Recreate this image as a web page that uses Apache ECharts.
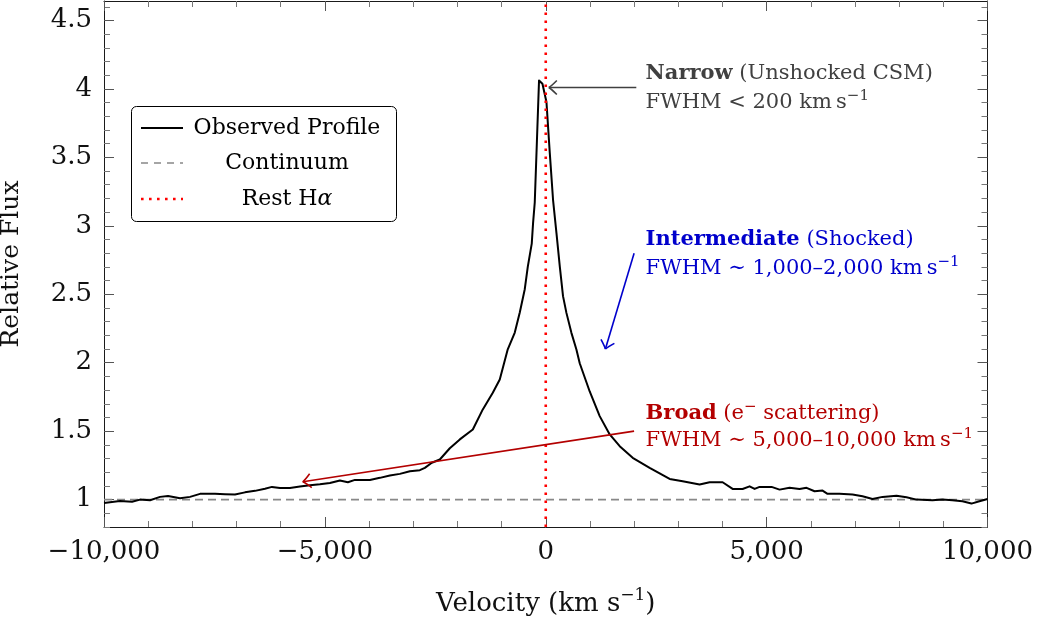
<!DOCTYPE html>
<html>
<head>
<meta charset="utf-8">
<script src="https://cdn.jsdelivr.net/npm/echarts@6/dist/echarts.min.js"></script>
<style>
  html, body { margin: 0; padding: 0; background: #fff; }
  #chart { width: 1038px; height: 623px; }
</style>
</head>
<body>
<div id="chart"></div>
<script>
// H-alpha line profile of an interacting supernova (velocity in km/s, flux relative to continuum)
const velocity = [
  -10000, -9640, -9365, -9184, -8958, -8731, -8550, -8279, -8053, -7826,
  -7487, -7261, -7035, -6809, -6582, -6356, -6198, -6017, -5791, -5565,
  -5338, -5112, -4886, -4660, -4479, -4320, -3981, -3755, -3529, -3303,
  -3076, -2850, -2737, -2579, -2398, -2172, -1945, -1651, -1425, -1199,
  -1041, -860, -701, -588, -475, -407, -317, -287, -249, -200,
  -152, -75, 16, 90, 165, 242, 317, 391, 468, 581,
  694, 769, 995, 1221, 1448, 1674, 1968, 2352, 2805, 3099,
  3483, 3710, 4004, 4230, 4456, 4614, 4728, 4841, 5112, 5293,
  5519, 5745, 5904, 6085, 6266, 6379, 6650, 6944, 7171, 7397,
  7623, 7940, 8166, 8392, 8754, 8980, 9206, 9432, 9636, 9817, 10000
];
const flux = [
  0.976, 0.990, 0.985, 1.000, 0.995, 1.020, 1.027, 1.010, 1.020, 1.042,
  1.042, 1.040, 1.037, 1.053, 1.064, 1.080, 1.093, 1.085, 1.085, 1.095,
  1.105, 1.112, 1.122, 1.139, 1.127, 1.144, 1.144, 1.159, 1.176, 1.188,
  1.207, 1.215, 1.232, 1.269, 1.293, 1.375, 1.440, 1.512, 1.659, 1.781,
  1.878, 2.098, 2.220, 2.367, 2.537, 2.700, 2.870, 3.020, 3.170, 3.620,
  4.062, 4.038, 3.904, 3.538, 3.190, 2.948, 2.705, 2.486, 2.364, 2.218,
  2.096, 1.996, 1.790, 1.610, 1.476, 1.390, 1.305, 1.232, 1.151, 1.134,
  1.110, 1.127, 1.127, 1.078, 1.078, 1.097, 1.078, 1.093, 1.093, 1.073,
  1.086, 1.078, 1.086, 1.061, 1.066, 1.042, 1.042, 1.037, 1.024, 1.005,
  1.020, 1.029, 1.017, 1.000, 0.995, 1.000, 0.995, 0.988, 0.971, 0.988, 1.005
];
const continuumLevel = 1;
const restVelocity = 0;

const xRange = [-10000, 10000];
const yRange = [0.8, 4.642];
const yMajorTicks = [1, 1.5, 2, 2.5, 3, 3.5, 4, 4.5];
const yMinorTicks = [0.8, 0.9, 1.1, 1.2, 1.3, 1.4, 1.6, 1.7, 1.8, 1.9, 2.1, 2.2, 2.3, 2.4,
  2.6, 2.7, 2.8, 2.9, 3.1, 3.2, 3.3, 3.4, 3.6, 3.7, 3.8, 3.9, 4.1, 4.2, 4.3, 4.4, 4.6];

const FONT = 'DejaVu Serif';
const GRAY = '#404040', BLUE = '#0000cc', RED = '#b30000';
const ANNO_SIZE = 21;

// Annotated line components: arrow (tail -> head) and two text lines, all in data units
const components = [
  { tail: [2050, 4.01], head: [70, 4.01], color: GRAY, textAt: [2260, 4.11, 3.90],
    line1: '{b|Narrow} (Unshocked CSM)', line2: 'FWHM < 200 km\u2009s{sup|\u22121}' },
  { tail: [2000, 2.8], head: [1350, 2.1], color: BLUE, textAt: [2260, 2.897, 2.69],
    line1: '{b|Intermediate} (Shocked)', line2: 'FWHM \u223C 1,000\u20132,000 km\u2009s{sup|\u22121}' },
  { tail: [2000, 1.5], head: [-5500, 1.13], color: RED, textAt: [2260, 1.626, 1.428],
    line1: '{b|Broad} (e{sup|\u2212} scattering)', line2: 'FWHM \u223C 5,000\u201310,000 km\u2009s{sup|\u22121}' }
];

const fmtVelocity = v => (v < 0 ? '\u2212' : '') + Math.abs(v).toLocaleString('en-US');

const frame = { show: true, onZero: false, lineStyle: { color: '#1a1a1a', width: 1 } };
const hiddenLine = { show: false, onZero: false };
const majorTick = (values) => ({ show: true, inside: true, length: 10, lineStyle: { color: '#555', width: 1 }, customValues: values });
const minorTickY = { show: true, inside: true, length: 6, lineStyle: { color: '#777', width: 1 }, customValues: yMinorTicks };

const chart = echarts.init(document.getElementById('chart'), null, { renderer: 'canvas' });

chart.setOption({
  animation: false,
  backgroundColor: '#fff',
  textStyle: { fontFamily: FONT },
  grid: { left: 104, right: 50.5, top: 1, bottom: 96, containLabel: false, outerBoundsMode: 'none' },
  xAxis: [
    {
      type: 'value', position: 'bottom', min: xRange[0], max: xRange[1], interval: 5000,
      axisLine: frame,
      axisTick: { show: true, inside: true, length: 10, lineStyle: { color: '#555', width: 1 } },
      minorTick: { show: true, splitNumber: 5, length: 6, lineStyle: { color: '#777', width: 1 } },
      splitLine: { show: false },
      axisLabel: { formatter: fmtVelocity, fontSize: 26, color: '#111', margin: 12, fontFamily: FONT },
      name: 'Velocity (km s{sup|\u22121})', nameLocation: 'middle', nameGap: 60,
      nameTextStyle: { fontSize: 26, color: '#111', fontFamily: FONT, lineHeight: 34,
        rich: { sup: { fontSize: 17, lineHeight: 17, color: '#111', fontFamily: FONT, verticalAlign: 'top' } } }
    },
    {
      type: 'value', position: 'top', min: xRange[0], max: xRange[1], interval: 5000,
      axisLine: frame,
      axisTick: { show: true, inside: true, length: 10, lineStyle: { color: '#555', width: 1 } },
      minorTick: { show: true, splitNumber: 5, length: 6, lineStyle: { color: '#777', width: 1 } },
      splitLine: { show: false }, axisLabel: { show: false }
    }
  ],
  yAxis: [
    {
      type: 'value', position: 'left', min: yRange[0], max: yRange[1],
      axisLine: frame, axisTick: majorTick(yMajorTicks), splitLine: { show: false },
      axisLabel: { customValues: yMajorTicks, fontSize: 26, color: '#111', margin: 12, fontFamily: FONT },
      name: 'Relative Flux', nameLocation: 'middle', nameGap: 80,
      nameTextStyle: { fontSize: 25, color: '#111', fontFamily: FONT }
    },
    {
      type: 'value', position: 'right', min: yRange[0], max: yRange[1],
      axisLine: frame, axisTick: majorTick(yMajorTicks), splitLine: { show: false },
      axisLabel: { show: false }
    },
    {
      type: 'value', position: 'left', min: yRange[0], max: yRange[1],
      axisLine: hiddenLine, splitLine: { show: false }, axisLabel: { show: false }, axisTick: minorTickY
    },
    {
      type: 'value', position: 'right', min: yRange[0], max: yRange[1],
      axisLine: hiddenLine, splitLine: { show: false }, axisLabel: { show: false }, axisTick: minorTickY
    }
  ],
  series: [
    {
      name: 'Continuum', type: 'line', showSymbol: false, silent: true,
      data: [[xRange[0], continuumLevel], [xRange[1], continuumLevel]],
      lineStyle: { color: '#888', width: 1.6, type: [8, 5] }, z: 2
    },
    {
      name: 'Observed Profile', type: 'line', showSymbol: false, silent: true,
      data: velocity.map((v, i) => [v, flux[i]]),
      lineStyle: { color: '#000', width: 2, join: 'round' }, z: 3
    },
    {
      name: 'Rest H\u03B1', type: 'line', showSymbol: false, silent: true,
      data: [[restVelocity, yRange[0]], [restVelocity, yRange[1]]],
      lineStyle: { color: '#ff0000', width: 2.6, type: [2.6, 5.4] }, z: 4
    }
  ]
});

// Arrows, annotation text and the legend box are drawn as graphic elements
function toPx(p) { return chart.convertToPixel({ xAxisIndex: 0, yAxisIndex: 0 }, p); }

function arrow(tailD, headD, color) {
  const a = toPx(tailD), b = toPx(headD);
  const dx = b[0] - a[0], dy = b[1] - a[1], L = Math.hypot(dx, dy);
  const ux = dx / L, uy = dy / L, nx = -uy, ny = ux;
  const back = 8, half = 7;
  const els = [{ type: 'line', z: 10, shape: { x1: a[0], y1: a[1], x2: b[0], y2: b[1] },
    style: { stroke: color, lineWidth: 1.6 } }];
  [1, -1].forEach(s => {
    els.push({ type: 'bezierCurve', z: 10, shape: {
      x1: b[0] - ux * back + nx * half * s, y1: b[1] - uy * back + ny * half * s,
      cpx1: b[0] - ux * 2.5 + nx * 1.5 * s, cpy1: b[1] - uy * 2.5 + ny * 1.5 * s,
      x2: b[0], y2: b[1] }, style: { stroke: color, lineWidth: 1.6, fill: null } });
  });
  return els;
}

function annoText(text, pos, color) {
  return { type: 'text', z: 10, x: pos[0], y: pos[1], style: {
    text: text, fontFamily: FONT, fontSize: ANNO_SIZE, lineHeight: 28, fill: color, align: 'left', verticalAlign: 'middle',
    rich: {
      b: { fontFamily: FONT, fontSize: ANNO_SIZE, lineHeight: 28, fontWeight: 'bold', fill: color, color: color },
      sup: { fontFamily: FONT, fontSize: 15, lineHeight: 15, fill: color, color: color, verticalAlign: 'top' }
    } } };
}

const graphics = [];
components.forEach(c => {
  graphics.push(...arrow(c.tail, c.head, c.color));
  graphics.push(annoText(c.line1, toPx([c.textAt[0], c.textAt[1]]), c.color));
  graphics.push(annoText(c.line2, toPx([c.textAt[0], c.textAt[2]]), c.color));
});

// Legend
const legendBox = { x: 131.5, y: 106.5, w: 265, h: 115 };
const legendItems = [
  { label: 'Observed Profile', stroke: '#000', width: 2, dash: null, y: 128 },
  { label: 'Continuum', stroke: '#888', width: 1.6, dash: [7, 6], y: 163 },
  { label: 'Rest H{i|\u03B1}', stroke: '#ff0000', width: 2.6, dash: [2.6, 5.4], y: 199 }
];
graphics.push({ type: 'rect', z: 20, shape: { x: legendBox.x, y: legendBox.y, width: legendBox.w, height: legendBox.h, r: 5 },
  style: { fill: '#fff', stroke: '#000', lineWidth: 1 } });
legendItems.forEach(it => {
  graphics.push({ type: 'line', z: 21, shape: { x1: 141, y1: it.y, x2: 183, y2: it.y },
    style: { stroke: it.stroke, lineWidth: it.width, lineDash: it.dash } });
  graphics.push({ type: 'text', z: 21, x: 287, y: it.y, style: {
    text: it.label, fontFamily: FONT, fontSize: 22, fill: '#000', align: 'center', verticalAlign: 'middle',
    rich: { i: { fontFamily: FONT, fontSize: 22, fontStyle: 'italic', fill: '#000', color: '#000' } } } });
});

chart.setOption({ graphic: { elements: graphics } });
</script>
</body>
</html>
